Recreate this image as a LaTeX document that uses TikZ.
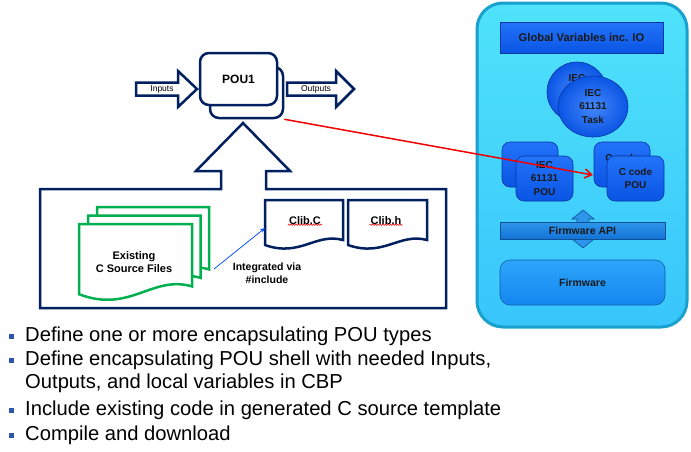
\documentclass[tikz,border=0pt]{standalone}
\usepackage{fontspec}
\setmainfont{Liberation Sans}
\usetikzlibrary{positioning,calc,arrows.meta,decorations.pathmorphing,shapes.geometric}

\definecolor{navy}{RGB}{0,32,96}
\definecolor{docgreen}{RGB}{0,176,80}
\definecolor{panelfill}{RGB}{64,224,250}
\definecolor{panelline}{RGB}{25,160,205}
\definecolor{boxtop}{RGB}{35,115,250}
\definecolor{boxbot}{RGB}{10,85,228}
\definecolor{boxedge}{RGB}{5,55,165}
\definecolor{apitop}{RGB}{45,150,235}
\definecolor{apibot}{RGB}{20,115,215}
\definecolor{fwtop}{RGB}{45,165,250}
\definecolor{fwbot}{RGB}{20,135,240}
\definecolor{bulletc}{RGB}{45,85,170}

% document outline: left, top, right, lowest point of the wave
\newcommand\docpath[4]{({#1},{#2}) -- ({#3},{#2}) -- ({#3},{(#4)-0.2*((#4)-(#2))})
  .. controls ({(#3)-0.35*((#3)-(#1))},{(#4)-0.35*((#4)-(#2))}) and ({(#1)+0.45*((#3)-(#1))},{(#4)+0.15*((#4)-(#2))})
  .. ({#1},{(#4)-0.1*((#4)-(#2))}) -- cycle}

\begin{document}
\begin{tikzpicture}[x=1pt,y=-1pt,line join=miter,
    navyline/.style={draw=navy,line width=2.5pt},
    greendoc/.style={draw=docgreen,line width=2.5pt,fill=white},
    poubox/.style={navyline,fill=white,rounded corners=9pt,inner sep=0pt},
    lbl/.style={font=\bfseries\fontsize{11}{13}\selectfont,align=center,inner sep=1pt},
    small/.style={font=\fontsize{8.5}{10}\selectfont,inner sep=1pt},
    blue3d/.style={draw=boxedge,line width=0.6pt,top color=boxtop,bottom color=boxbot,
      font=\bfseries\fontsize{10}{13.5}\selectfont,text=black!90,align=center,inner sep=0pt},
    pou/.style={blue3d,rounded corners=8pt},
    ball/.style={blue3d,ellipse,shading=radial,inner color=boxtop!85!white,outer color=boxbot},
    bul/.style={fill=bulletc,minimum size=4.2pt,inner sep=0pt},
    bullettext/.style={anchor=base west,inner sep=0pt,font=\fontsize{20.2}{24}\selectfont},
    spell/.style={draw=red,line width=0.5pt,decorate,decoration={snake,amplitude=0.7pt,segment length=2.5pt}}]
  \useasboundingbox[fill=white] (0,0) rectangle (691,451);

  % POU with inputs and outputs
  \draw[navyline] (136,82.5) -- (178,82.5) -- (178,71) -- (197,89) -- (178,107) -- (178,95.5) -- (136,95.5) -- cycle;
  \draw[navyline] (287,82.5) -- (336,82.5) -- (336,71) -- (354,89) -- (336,107) -- (336,95.5) -- (287,95.5) -- cycle;
  \node[small] (inputs) at (162,89) {Inputs};
  \node[small] (outputs) at (316,89) {Outputs};
  \node[poubox,minimum width=73,minimum height=51] (pouback) at (246.5,92.5) {};
  \node[poubox,minimum width=77,minimum height=52,lbl,font=\bfseries\fontsize{12}{14}\selectfont] (pou) at (238.5,79) {POU1};

  % code box with the big arrow
  \draw[navyline] (221,189) -- (221,171) -- (196,171) -- (243,123) -- (290,171) -- (266,171) -- (266,189)
    -- (446,189) -- (446,308) -- (40,308) -- (40,189) -- cycle;
  \foreach \d in {2,1,0}
    \draw[greendoc] \docpath{79+9*\d}{224-8.5*\d}{192+8.5*\d}{302-8.5*\d};
  \node[lbl] (src) at (134,262.5) {Existing\\C Source Files};
  \draw[navyline,fill=white] \docpath{265}{200}{343}{250};
  \draw[navyline,fill=white] \docpath{348}{200}{427}{250};
  \node[lbl] (clibc) at (305,221) {Clib.C};
  \node[lbl] (clibh) at (386,221) {Clib.h};
  \draw[spell] ([yshift=1.5pt]clibc.south west) -- ([yshift=1.5pt]clibc.south east);
  \draw[spell] ([yshift=1.5pt]clibh.south west) -- ([yshift=1.5pt]clibh.south east);
  \node[lbl,font=\bfseries\fontsize{10.5}{13}\selectfont] (incl) at (267,273.5) {Integrated via\\\#include};
  \coordinate (srcout) at (214,269);
  \coordinate (clibin) at (265,228);
  \draw[-{Stealth[length=5pt,width=4pt]},draw=blue!70!cyan,fill=blue!70!cyan,line width=0.7pt] (srcout) -- (clibin);

  % controller panel
  \draw[line width=3pt,draw=panelline,top color=panelfill!92!white,bottom color=panelfill!88!blue,rounded corners=26pt]
    (477,3) rectangle (687,327);
  \node[blue3d,minimum width=163,minimum height=31,font=\bfseries\fontsize{11.2}{13}\selectfont] (glob) at (581.5,37.5) {Global Variables inc. IO};
  \node[ball,minimum width=60,minimum height=60] (taskback) at (577,92) {IEC\\61131\\Task};
  \node[ball,minimum width=70,minimum height=61] (task) at (593,106.5) {IEC\\61131\\Task};
  \node[pou,minimum width=56,minimum height=45] (iecback) at (530,164.5) {};
  \node[pou,minimum width=57,minimum height=45] (iec) at (544.5,178.5) {IEC\\61131\\POU};
  \node[pou,minimum width=56,minimum height=45] (cback) at (622,164.5) {C code\\POU};
  \node[pou,minimum width=57,minimum height=45] (cpou) at (635.5,178.5) {C code\\POU};
  \draw[draw=apibot!70!black,line width=0.6pt,fill=apitop] (577,219) -- (572,219) -- (583,210) -- (594,219) -- (589,219)
    -- (589,239) -- (594,239) -- (583,248) -- (572,239) -- (577,239) -- cycle;
  \node[blue3d,top color=apitop,bottom color=apibot,draw=apibot!70!black,
    minimum width=165,minimum height=17,font=\bfseries\fontsize{10.5}{12}\selectfont] (api) at (582.5,230.5) {Firmware API};
  \node[pou,top color=fwtop,bottom color=fwbot,draw=fwbot!70!black,rounded corners=10pt,
    minimum width=165,minimum height=45,font=\bfseries\fontsize{10.5}{12}\selectfont] (fw) at (582.5,282.5) {Firmware};

  % link from the POU to the C code POU
  \coordinate (ctip) at (593,175);
  \draw[-{Straight Barb[length=7pt,width=9pt]},draw=red!95!black,line width=1.5pt] (pouback.south east) -- (ctip);

  % steps
  \node[bullettext] (t1) at (25,341) {Define one or more encapsulating POU types};
  \node[bullettext] (t2) at (25,365) {Define encapsulating POU shell with needed Inputs,};
  \node[bullettext] (t2b) at (25,388) {Outputs, and local variables in CBP};
  \node[bullettext] (t3) at (25,415) {Include existing code in generated C source template};
  \node[bullettext] (t4) at (25,440) {Compile and download};
  \foreach \n in {t1,t2,t3,t4}
    \node[bul] at ($(\n.base west)+(-13.5,-4.5)$) {};
\end{tikzpicture}
\end{document}
